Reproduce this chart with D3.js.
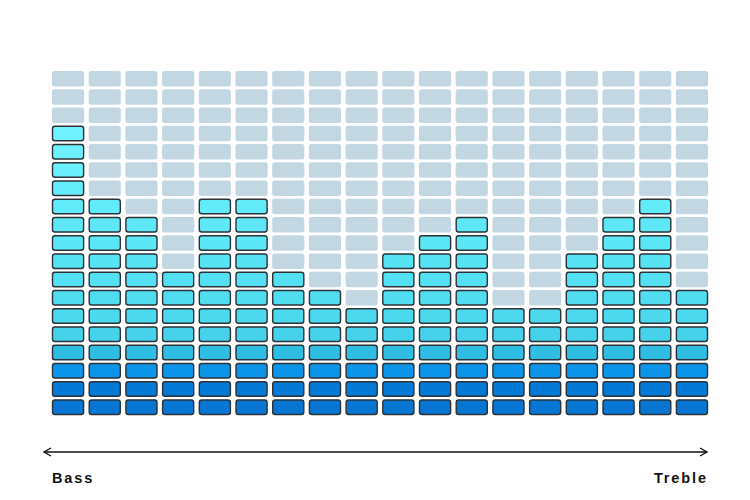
<!DOCTYPE html>
<html>
<head>
<meta charset="utf-8">
<script src="https://cdn.jsdelivr.net/npm/d3@7"></script>
<style>
  html, body { margin: 0; padding: 0; background: #fff; }
  svg { display: block; }
</style>
</head>
<body>
<div id="chart"></div>
<script>
const bands = ["b1","b2","b3","b4","b5","b6","b7","b8","b9","b10","b11","b12","b13","b14","b15","b16","b17","b18"];
const levels = [16, 12, 11, 8, 12, 12, 8, 7, 6, 9, 10, 11, 6, 6, 9, 11, 12, 7];
const rowCount = 19;
const rowColors = ["#0676d2","#0479d6","#0c95e8","#30bde4","#45d2ea","#4cd9ee","#50ddf0","#53e0f2","#56e3f4","#5ae6f5","#5ee8f7","#62ebf9","#66edfb","#6aeffc","#6ef1fe","#72f2ff","#75f3ff","#78f4ff","#7bf5ff"];
const inactiveColor = "#c3d7e3";
const axisLabels = ["Bass", "Treble"];

const W = 750, H = 500;
const svg = d3.select("#chart").append("svg").attr("width", W).attr("height", H);

const x = d3.scaleBand().domain(bands).range([52, 708]).paddingInner(0.125).paddingOuter(0);
const rows = d3.range(rowCount);
const y = d3.scaleBand().domain(rows).range([415, 71]).paddingInner(0.15).paddingOuter(0);

const cells = [];
bands.forEach((b, i) => {
  rows.forEach(r => cells.push({band: b, row: r, on: r < levels[i]}));
});

svg.append("g").selectAll("rect").data(cells).join("rect")
  .attr("x", d => x(d.band) + (d.on ? 0.5 : 0))
  .attr("y", d => y(d.row) + (d.on ? 0.5 : 0))
  .attr("width", d => x.bandwidth() - (d.on ? 1 : 0))
  .attr("height", d => y.bandwidth() - (d.on ? 1 : 0))
  .attr("rx", 2.5).attr("ry", 2.5)
  .attr("fill", d => d.on ? rowColors[d.row] : inactiveColor)
  .attr("stroke", d => d.on ? "#2d3236" : "none")
  .attr("stroke-width", 1.4);

// axis arrow
const ay = 452;
const x0 = 44, x1 = 707;
const g = svg.append("g").attr("stroke", "#111").attr("stroke-width", 1.4).attr("fill", "none");
g.append("line").attr("x1", x0).attr("x2", x1).attr("y1", ay).attr("y2", ay);
g.append("path").attr("d", `M${x0+7},${ay-4}L${x0},${ay}L${x0+7},${ay+4}`);
g.append("path").attr("d", `M${x1-7},${ay-4}L${x1},${ay}L${x1-7},${ay+4}`);

svg.append("text").attr("x", 52).attr("y", 483)
  .attr("font-family", "Liberation Sans, Arial, sans-serif").attr("font-weight", "bold")
  .attr("font-size", 14.5).attr("letter-spacing", 1.9).attr("fill", "#111")
  .text(axisLabels[0]);
svg.append("text").attr("x", 708).attr("y", 483).attr("text-anchor", "end")
  .attr("font-family", "Liberation Sans, Arial, sans-serif").attr("font-weight", "bold")
  .attr("font-size", 14.5).attr("letter-spacing", 1.9).attr("fill", "#111")
  .text(axisLabels[1]);
</script>
</body>
</html>
